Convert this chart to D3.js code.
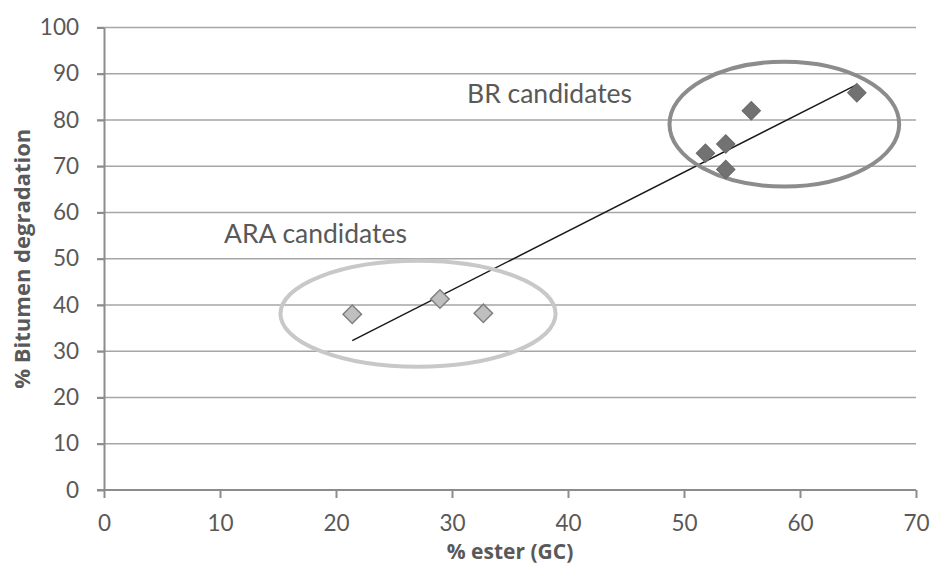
<!DOCTYPE html>
<html><head><meta charset="utf-8">
<script src="https://cdn.jsdelivr.net/npm/d3@7"></script>
<style>
html,body{margin:0;padding:0;background:#fff;}
text{font-family:Lato,"Open Sans",sans-serif;fill:#595959;}
</style></head>
<body><svg id="c" width="933" height="565"></svg>
<script>
// Data
const brEster = [51.85, 53.6, 53.6, 55.8, 64.9];
const brDegradation = [72.8, 74.8, 69.3, 82.0, 85.9];
const araEster = [21.4, 28.96, 32.7];
const araDegradation = [38.0, 41.3, 38.2];
const xTicks = [0, 10, 20, 30, 40, 50, 60, 70];
const yTicks = [0, 10, 20, 30, 40, 50, 60, 70, 80, 90, 100];
const groupLabels = ["BR candidates", "ARA candidates"];
const xTitle = "% ester (GC)";
const yTitle = "% Bitumen degradation";

const svg = d3.select("#c");
const m = {l:104, r:916, t:27.5, b:490};
const x = d3.scaleLinear().domain([0,70]).range([m.l, m.r]);
const y = d3.scaleLinear().domain([0,100]).range([m.b, m.t]);

// gridlines
svg.append("g").selectAll("line").data(yTicks.filter(d=>d>0)).join("line")
  .attr("x1", m.l-7).attr("x2", m.r).attr("y1", d=>y(d)).attr("y2", d=>y(d))
  .attr("stroke", "#a6a6a6").attr("stroke-width", 1.5);

// axes
const xAxis = svg.append("g").attr("transform", `translate(0,${m.b})`)
  .call(d3.axisBottom(x).tickValues(xTicks).tickSize(8).tickSizeOuter(0).tickPadding(17));
const yAxis = svg.append("g").attr("transform", `translate(${m.l},0)`)
  .call(d3.axisLeft(y).tickValues(yTicks).tickSize(7).tickSizeOuter(0).tickPadding(18));
[xAxis, yAxis].forEach(a => {
  a.select(".domain").attr("stroke", "#8c8c8c").attr("stroke-width", 2);
  a.selectAll(".tick line").attr("stroke", "#8c8c8c").attr("stroke-width", 2);
  a.selectAll(".tick text").style("font-family", "Lato").attr("font-size", 22.5).attr("fill", "#595959");
});
xAxis.select(".domain").attr("d", `M${m.l-7},0H${m.r}`);
xAxis.selectAll(".tick text").attr("dy", "0.71em");

// trend line (least squares over all points)
const allX = brEster.concat(araEster), allY = brDegradation.concat(araDegradation);
const mx = d3.mean(allX), my = d3.mean(allY);
const slope = d3.sum(allX.map((v,i)=>(v-mx)*(allY[i]-my))) / d3.sum(allX.map(v=>(v-mx)*(v-mx)));
const icpt = my - slope*mx;
const [x0, x1] = d3.extent(allX);
svg.append("line").attr("x1", x(x0)).attr("y1", y(icpt+slope*x0))
  .attr("x2", x(x1)).attr("y2", y(icpt+slope*x1))
  .attr("stroke", "#1a1a1a").attr("stroke-width", 1.5);

// ellipses
svg.append("ellipse").attr("cx", x(58.65)).attr("cy", y(79.1))
  .attr("rx", x(9.9)-x(0)).attr("ry", y(0)-y(13.5))
  .attr("fill", "none").attr("stroke", "#8c8c8c").attr("stroke-width", 4);
svg.append("ellipse").attr("cx", x(27.07)).attr("cy", y(38.1))
  .attr("rx", x(11.86)-x(0)).attr("ry", y(0)-y(11.45))
  .attr("fill", "none").attr("stroke", "#c8c8c8").attr("stroke-width", 4);

// markers
const diamond = d3.symbol().type(d3.symbolSquare).size(170);
svg.append("g").selectAll("path").data(araEster.map((v,i)=>[v, araDegradation[i]])).join("path")
  .attr("d", diamond).attr("transform", d=>`translate(${x(d[0])},${y(d[1])}) rotate(45)`)
  .attr("fill", "#bfbfbf").attr("stroke", "#808080").attr("stroke-width", 1.5);
svg.append("g").selectAll("path").data(brEster.map((v,i)=>[v, brDegradation[i]])).join("path")
  .attr("d", diamond).attr("transform", d=>`translate(${x(d[0])},${y(d[1])}) rotate(45)`)
  .attr("fill", "#727272").attr("stroke", "#6a6a6a").attr("stroke-width", 1);

// group labels
svg.append("text").attr("x", 467).attr("y", 103).attr("font-size", 26.5).text(groupLabels[0]);
svg.append("text").attr("x", 224).attr("y", 243).attr("font-size", 26.5).text(groupLabels[1]);

// axis titles
svg.append("text").attr("x", (m.l+m.r)/2).attr("y", 559).attr("text-anchor", "middle")
  .style("font-family", "'Open Sans'").attr("font-size", 21).attr("font-weight", "bold")
  .text(xTitle);
svg.append("text").attr("transform", `translate(30,${(m.t+m.b)/2}) rotate(-90)`)
  .attr("text-anchor", "middle").style("font-family", "'Open Sans'")
  .attr("font-size", 22).attr("font-weight", "bold").text(yTitle);
</script></body></html>
